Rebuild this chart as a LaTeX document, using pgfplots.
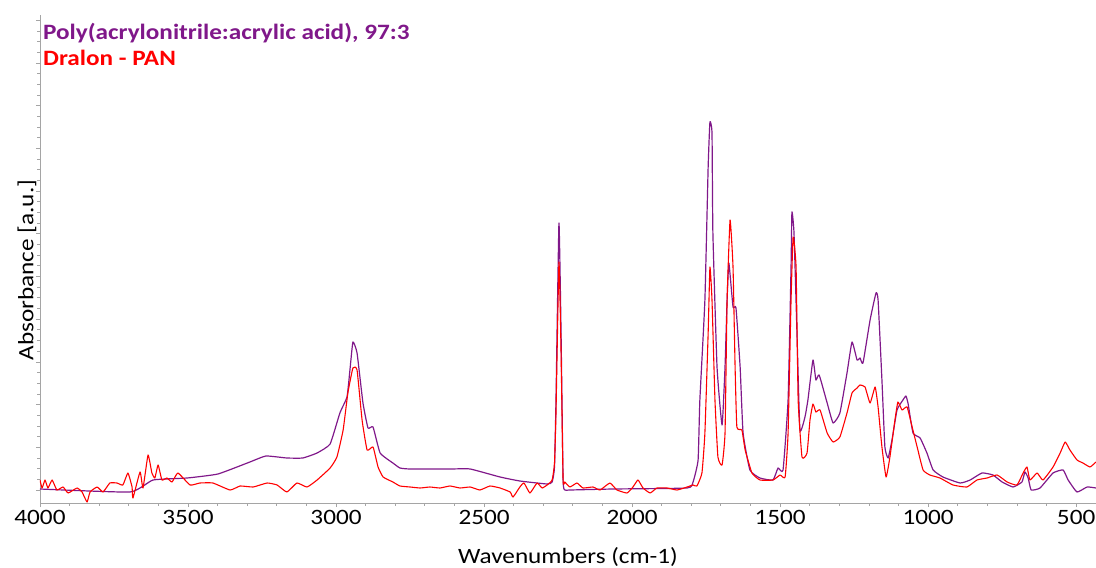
\documentclass[border=0pt]{standalone}
\usepackage{fontspec}
\setmainfont{Carlito}[FakeStretch=1.15]
\usepackage{pgfplots}
\pgfplotsset{compat=1.18}
\definecolor{ppl}{RGB}{128,24,138}
\definecolor{axgray}{RGB}{165,165,165}

\pgfplotstableread{
x y
4000 14
3696 11
3618 23
3503 25
3399 29
3291 41
3237 47
3166 45
3112 45
3064 50
3020 59
2987 90
2963 106
2953 133
2943 161
2929 150
2909 100
2892 75
2875 76
2851 50
2808 40
2784 35
2750 34
2615 34
2547 34
2446 26
2379 22
2287 19
2270 21
2262 36
2257 103
2247 280
2240 173
2233 23
2227 13
2210 13
2064 14
1814 15
1794 21
1777 43
1771 103
1754 203
1743 336
1737 381
1730 370
1727 270
1713 136
1696 78
1686 136
1679 203
1673 240
1659 196
1649 195
1635 136
1625 70
1602 33
1568 25
1524 23
1507 35
1490 33
1473 103
1463 236
1460 291
1453 270
1443 170
1433 73
1416 86
1406 103
1389 143
1379 123
1368 128
1341 100
1321 80
1298 90
1274 130
1257 161
1240 143
1230 145
1220 140
1196 183
1176 210
1169 203
1156 123
1146 56
1135 45
1122 63
1105 93
1085 103
1075 107
1068 100
1051 70
1027 65
1004 50
983 33
950 26
892 20
858 23
818 30
781 28
750 21
713 16
683 21
673 31
662 25
652 13
622 15
578 30
544 33
527 23
497 11
463 16
433 15
}\purpledata

\pgfplotstableread{
x y
4000 23
3993 15
3983 23
3973 15
3959 23
3943 13
3922 16
3905 10
3875 15
3858 11
3841 1
3831 11
3807 16
3787 11
3764 20
3740 20
3720 18
3703 30
3689 16
3686 5
3662 31
3652 15
3635 48
3622 30
3612 25
3601 38
3588 23
3571 25
3554 21
3534 30
3493 18
3460 20
3416 20
3358 13
3324 17
3280 16
3233 20
3199 18
3166 11
3132 20
3098 16
3064 23
3020 35
2997 46
2976 73
2960 110
2943 135
2929 133
2912 83
2895 53
2875 56
2858 36
2841 26
2808 21
2784 17
2750 16
2716 15
2683 16
2649 15
2615 17
2581 15
2547 16
2514 13
2480 17
2446 15
2412 11
2402 6
2379 16
2365 20
2345 10
2321 20
2304 15
2287 18
2270 23
2262 40
2257 90
2247 241
2240 153
2233 23
2227 21
2210 16
2186 20
2166 15
2132 16
2108 13
2075 20
2051 13
2017 10
1997 16
1980 23
1963 15
1939 10
1916 15
1882 15
1848 13
1814 16
1794 18
1781 17
1764 30
1754 70
1743 170
1737 236
1730 203
1720 103
1710 46
1696 38
1686 70
1679 203
1669 283
1659 236
1652 136
1646 76
1629 73
1618 53
1595 30
1568 23
1524 23
1500 28
1483 26
1473 70
1463 203
1456 266
1446 236
1439 103
1426 46
1409 50
1399 83
1389 99
1379 91
1365 93
1341 70
1321 61
1298 66
1274 90
1257 110
1240 115
1230 118
1213 116
1196 100
1179 116
1169 96
1156 56
1142 26
1129 46
1112 83
1102 101
1088 93
1071 96
1054 76
1037 56
1017 33
994 28
960 25
916 18
869 16
835 23
801 25
767 28
733 21
700 18
679 30
666 36
656 23
632 30
612 23
578 36
554 50
537 61
521 53
497 43
477 40
453 36
433 41
}\reddata

\begin{document}
\begin{tikzpicture}
\begin{axis}[
  at={(0,0)}, anchor=south west,
  scale only axis, width=1056bp, height=488bp,
  x dir=reverse, xmin=433, xmax=4000, ymin=0, ymax=488,
  axis x line*=bottom, axis y line*=left,
  axis line style={axgray, line width=0.8pt},
  xtick={500,1000,...,4000}, minor x tick num=4,
  ytick={13,55.7,98.4,141.1,183.8,226.5,269.2,311.9,354.6,397.3,440,482.7},
  yticklabels={}, minor y tick num=3,
  tick align=outside,
  major tick length=4bp, minor tick length=2.5bp,
  tick style={axgray, line width=0.8pt},
  /pgf/number format/assume math mode=true,
  /pgf/number format/1000 sep={},
  x tick label style={font=\fontsize{22}{26}\selectfont},
  xlabel={Wavenumbers (cm-1)}, ylabel={Absorbance [a.u.]},
  label style={font=\fontsize{22}{26}\selectfont},
  xlabel style={at={(axis description cs:0.5,0)}, anchor=base, yshift=-60bp},
  ylabel style={at={(axis description cs:0,0.5)}, anchor=south, xshift=-11bp},
]
\addplot[ppl, line width=1.2pt, smooth, tension=0.25, line join=round] table[x=x,y=y] {\purpledata};
\addplot[red, line width=1.1pt, smooth, tension=0.25, line join=round] table[x=x,y=y] {\reddata};
\node[anchor=base west, inner sep=0, text=ppl, font=\bfseries\fontsize{22}{26}\selectfont] at (axis description cs:0.0028,0.9488) {Poly(acrylonitrile:acrylic acid), 97:3};
\node[anchor=base west, inner sep=0, text=red, font=\bfseries\fontsize{22}{26}\selectfont] at (axis description cs:0.0028,0.8975) {Dralon - PAN};
\end{axis}
\pgfresetboundingbox
\path[use as bounding box] (-40bp,-65bp) rectangle (1056bp,503bp);
\end{tikzpicture}
\end{document}
